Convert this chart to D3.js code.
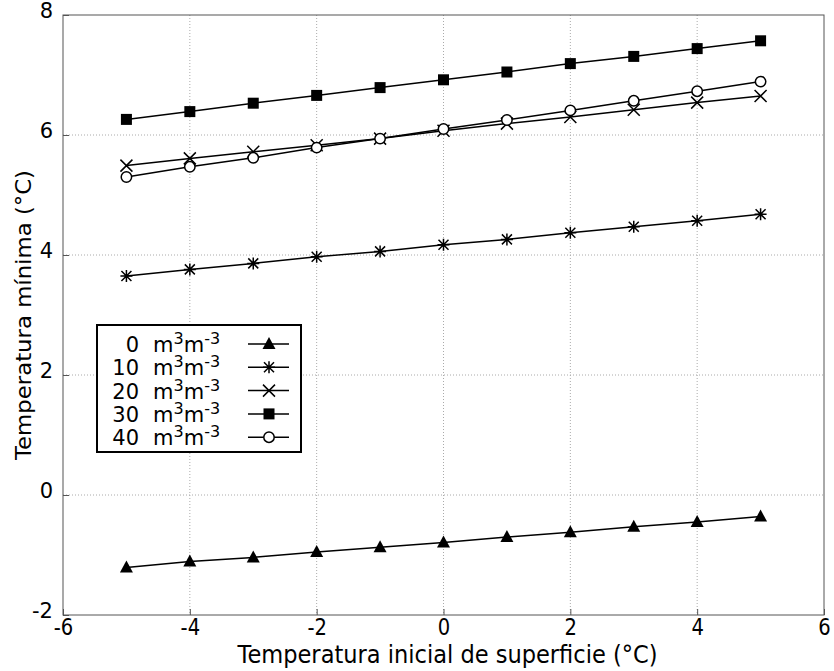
<!DOCTYPE html>
<html>
<head>
<meta charset="utf-8">
<script src="https://cdn.jsdelivr.net/npm/d3@7"></script>
<style>
  body { margin: 0; background: #fff; }
  .tick text { font-family: "DejaVu Sans", sans-serif; font-size: 21px; fill: #000; }
  .x.axis .tick text { font-size: 23px; }
  .axistext { font-family: "DejaVu Sans", sans-serif; font-size: 21px; fill: #000; }
  .xtitle { font-size: 24px; }
  .legtext { font-family: "DejaVu Sans", sans-serif; font-size: 21px; fill: #000; }
</style>
</head>
<body>
<div id="chart"></div>
<script>
// data
var xvals = [-5, -4, -3, -2, -1, 0, 1, 2, 3, 4, 5];
var s0  = [-1.21, -1.11, -1.04, -0.95, -0.87, -0.79, -0.70, -0.62, -0.53, -0.45, -0.36];
var s10 = [3.65, 3.76, 3.86, 3.97, 4.06, 4.17, 4.26, 4.37, 4.47, 4.57, 4.68];
var s20 = [5.49, 5.61, 5.72, 5.83, 5.94, 6.07, 6.19, 6.30, 6.42, 6.54, 6.65];
var s30 = [6.26, 6.39, 6.53, 6.66, 6.79, 6.92, 7.05, 7.19, 7.31, 7.44, 7.57];
var s40 = [5.30, 5.47, 5.62, 5.79, 5.94, 6.10, 6.25, 6.41, 6.57, 6.73, 6.89];
var seriesNames = ["0", "10", "20", "30", "40"];
var seriesVals = [s0, s10, s20, s30, s40];
var markers = ["triangle", "asterisk", "cross", "square", "circle"];
var xTicks = [-6, -4, -2, 0, 2, 4, 6];
var yTicks = [-2, 0, 2, 4, 6, 8];

var margin = {top: 15, right: 10, bottom: 56, left: 63},
    width = 834 - margin.left - margin.right,
    height = 671 - margin.top - margin.bottom;

var svg = d3.select("#chart").append("svg")
    .attr("width", 834)
    .attr("height", 671)
    .append("g")
    .attr("transform", "translate(" + margin.left + "," + margin.top + ")");

var x = d3.scaleLinear().domain([-6, 6]).range([0, width]);
var y = d3.scaleLinear().domain([-2, 8]).range([height, 0]);

// grid
svg.append("g").selectAll("line.gx")
    .data(xTicks.slice(1, -1)).enter().append("line")
    .attr("x1", function (d) { return x(d); })
    .attr("x2", function (d) { return x(d); })
    .attr("y1", 0).attr("y2", height)
    .style("stroke", "#aaa").style("stroke-width", 1)
    .style("stroke-dasharray", "1,2");
svg.append("g").selectAll("line.gy")
    .data(yTicks.slice(1, -1)).enter().append("line")
    .attr("y1", function (d) { return y(d); })
    .attr("y2", function (d) { return y(d); })
    .attr("x1", 0).attr("x2", width)
    .style("stroke", "#aaa").style("stroke-width", 1)
    .style("stroke-dasharray", "1,2");

// axes (plain hyphen for negatives, like the original)
var fmt = function (d) { return String(d); };
var xAxis = svg.append("g")
    .attr("class", "x axis")
    .attr("transform", "translate(0," + height + ")")
    .call(d3.axisBottom(x).tickValues(xTicks).tickFormat(fmt).tickSize(-6).tickPadding(6));
var yAxis = svg.append("g")
    .attr("class", "y axis")
    .call(d3.axisLeft(y).tickValues(yTicks).tickFormat(fmt).tickSize(-6).tickPadding(10));
svg.selectAll(".axis path").remove();
svg.selectAll(".axis line").style("stroke", "#555");
yAxis.selectAll(".tick text").attr("dy", "0.1em");
xAxis.selectAll(".tick text").attr("dy", "0.6em")
    .attr("transform", "scale(0.85,1)");

// frame
svg.append("rect")
    .attr("width", width).attr("height", height)
    .style("fill", "none").style("stroke", "#555").style("stroke-width", 1);

// axis labels
svg.append("text")
    .attr("class", "axistext xtitle")
    .attr("x", width / 2 + 4)
    .attr("y", height + 48)
    .attr("text-anchor", "middle")
    .attr("textLength", 420)
    .attr("lengthAdjust", "spacingAndGlyphs")
    .text("Temperatura inicial de superficie (°C)");
svg.append("text")
    .attr("class", "axistext")
    .attr("transform", "rotate(-90)")
    .attr("x", -(height / 2))
    .attr("y", -32)
    .attr("text-anchor", "middle")
    .attr("textLength", 290)
    .attr("lengthAdjust", "spacingAndGlyphs")
    .text("Temperatura mínima (°C)");

function drawMarker(g, type) {
    if (type == "triangle") {
        g.append("path").attr("d", "M0,-7L6.5,5L-6.5,5Z").style("fill", "#000");
    } else if (type == "square") {
        g.append("rect").attr("x", -5.5).attr("y", -5.5).attr("width", 11).attr("height", 11).style("fill", "#000");
    } else if (type == "circle") {
        g.append("circle").attr("r", 5.2).style("fill", "#fff").style("stroke", "#000").style("stroke-width", 1.5);
    } else if (type == "cross") {
        g.append("path").attr("d", "M-6,-6L6,6M-6,6L6,-6").style("stroke", "#000").style("stroke-width", 1.5);
    } else if (type == "asterisk") {
        g.append("path").attr("d", "M-6,0L6,0M0,-6L0,6M-5,-5L5,5M-5,5L5,-5").style("stroke", "#000").style("stroke-width", 1.5);
    }
}

var line = d3.line()
    .x(function (d) { return x(d.x); })
    .y(function (d) { return y(d.y); });

seriesVals.forEach(function (vals, i) {
    var data = xvals.map(function (xv, j) { return {x: xv, y: vals[j]}; });
    svg.append("path")
        .datum(data)
        .attr("d", line)
        .style("fill", "none").style("stroke", "#000").style("stroke-width", 1.5);
    data.forEach(function (d) {
        var g = svg.append("g").attr("transform", "translate(" + x(d.x) + "," + y(d.y) + ")");
        drawMarker(g, markers[i]);
    });
});

// legend
var leg = svg.append("g").attr("transform", "translate(" + (97 - margin.left) + "," + (325 - margin.top) + ")");
leg.append("rect")
    .attr("width", 204).attr("height", 127)
    .style("fill", "#fff").style("stroke", "#000").style("stroke-width", 2);
seriesNames.forEach(function (name, i) {
    var cy = 19 + i * 23.3;
    leg.append("text").attr("class", "legtext")
        .attr("x", 42).attr("y", cy + 8).attr("text-anchor", "end").text(name);
    var t = leg.append("text").attr("class", "legtext").attr("x", 56).attr("y", cy + 8);
    t.append("tspan").text("m");
    t.append("tspan").attr("dy", -8).style("font-size", "16px").text("3");
    t.append("tspan").attr("dy", 8).text("m");
    t.append("tspan").attr("dy", -8).style("font-size", "16px").text("-3");
    leg.append("line").attr("x1", 151).attr("x2", 192).attr("y1", cy).attr("y2", cy)
        .style("stroke", "#000").style("stroke-width", 1.5);
    var g = leg.append("g").attr("transform", "translate(172," + cy + ")");
    drawMarker(g, markers[i]);
});
</script>
</body>
</html>
